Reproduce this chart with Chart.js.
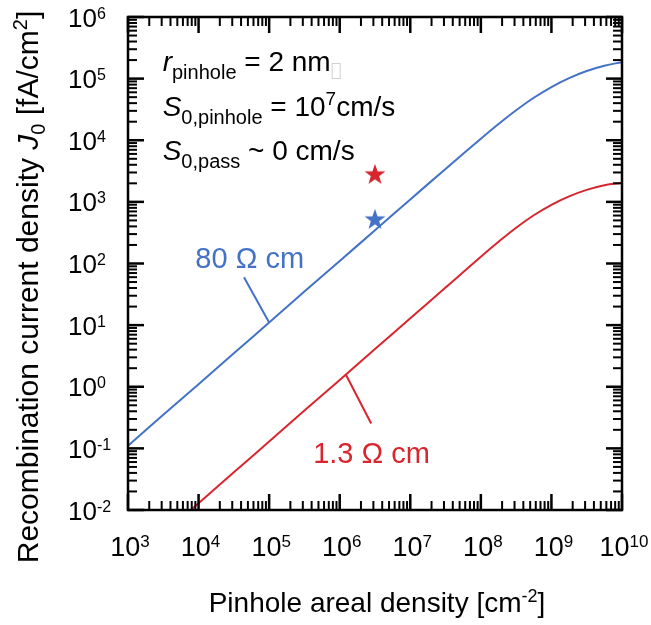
<!DOCTYPE html>
<html>
<head>
<meta charset="utf-8">
<script src="https://cdn.jsdelivr.net/npm/chart.js@4.4.0/dist/chart.umd.min.js"></script>
<style>
  html, body { margin: 0; padding: 0; background: #fff; }
  #wrap { width: 651px; height: 625px; }
</style>
</head>
<body>
<div id="wrap"><canvas id="j0Chart" width="651" height="625"></canvas></div>
<script>
// pinhole areal density [cm^-2]
var pinholeDensity = [1e3, 3.16e3, 1e4, 3.16e4, 1e5, 3.16e5, 1e6, 3.16e6, 1e7, 3.16e7,
                      1e8, 1.78e8, 3.16e8, 5.62e8, 1e9, 1.78e9, 3.16e9, 5.62e9, 1e10];
// J0 [fA/cm2], 80 Ohm cm wafer
var j0Res80 = [0.11, 0.35, 1.1, 3.5, 11, 35, 110, 346, 1096, 3430,
               10600, 18300, 30600, 48900, 73100, 102000, 133000, 162000, 185000];
// J0 [fA/cm2], 1.3 Ohm cm wafer
var j0Res13 = [0.00129, 0.0041, 0.0129, 0.041, 0.129, 0.41, 1.29, 4.1, 12.9, 40.7,
               129, 225, 380, 606, 897, 1230, 1567, 1862, 2045];
// measured samples (stars)
var starDensity = [3.16e6];
var starJ0Red = [2850];
var starJ0Blue = [530];

var xDecades = [3, 4, 5, 6, 7, 8, 9, 10];
var yDecades = [-2, -1, 0, 1, 2, 3, 4, 5, 6];

var BLUE = '#4472c4';
var RED = '#d9262e';
var FONT = '"Liberation Sans", Arial, sans-serif';

function toPoints(xs, ys) {
    return xs.map(function (x, i) { return { x: x, y: ys[i] }; });
}

function starImage(color, r) {
    var c = document.createElement('canvas');
    var s = Math.ceil(r * 2 + 2);
    c.width = s;
    c.height = s;
    var g = c.getContext('2d');
    g.beginPath();
    for (var i = 0; i < 10; i++) {
        var rad = i % 2 === 0 ? r : r * 0.4;
        var a = -Math.PI / 2 + i * Math.PI / 5;
        g.lineTo(s / 2 + rad * Math.cos(a), s / 2 + 1 + rad * Math.sin(a));
    }
    g.closePath();
    g.fillStyle = color;
    g.fill();
    return c;
}

function setFont(ctx, r) {
    ctx.font = (r.italic ? 'italic ' : '') + r.size + 'px ' + FONT;
}

// draws text runs (for sub/superscripts), returns the end x
function drawRuns(ctx, x, y, runs, align) {
    var w = 0;
    runs.forEach(function (r) { setFont(ctx, r); w += ctx.measureText(r.t).width; });
    var cx = align === 'center' ? x - w / 2 : x;
    runs.forEach(function (r) {
        setFont(ctx, r);
        ctx.fillText(r.t, cx, y + (r.dy || 0));
        cx += ctx.measureText(r.t).width;
    });
    return cx;
}

function seg(ctx, x1, y1, x2, y2) {
    ctx.beginPath();
    ctx.moveTo(x1, y1);
    ctx.lineTo(x2, y2);
    ctx.stroke();
}

var notes = {
    id: 'notes',
    afterDatasetsDraw: function (chart) {
        var ctx = chart.ctx, xs = chart.scales.x, ys = chart.scales.y;
        function px(v) { return xs.getPixelForValue(v); }
        function py(v) { return ys.getPixelForValue(v); }
        ctx.save();
        ctx.textBaseline = 'alphabetic';
        ctx.textAlign = 'left';

        // pointers to the curves
        ctx.lineWidth = 2;
        ctx.strokeStyle = BLUE;
        seg(ctx, px(1e5), py(11), px(4.4e4), py(60));
        ctx.strokeStyle = RED;
        seg(ctx, px(1.22e6), py(1.58), px(2.79e6), py(0.254));

        ctx.fillStyle = BLUE;
        drawRuns(ctx, px(9.0e3), py(84), [{ t: '80 \u03A9 cm', size: 29 }]);
        ctx.fillStyle = RED;
        drawRuns(ctx, px(4.2e5), py(0.058), [{ t: '1.3 \u03A9 cm', size: 29 }]);

        // parameter block
        ctx.fillStyle = '#000';
        var x0 = px(3.1e3);
        var end = drawRuns(ctx, x0, py(1.33e5), [
            { t: 'r', size: 28, italic: true },
            { t: 'pinhole', size: 20, dy: 8 },
            { t: ' = 2 nm', size: 28 }
        ]);
        ctx.strokeStyle = '#cfcfcf';
        ctx.lineWidth = 1;
        ctx.strokeRect(end + 1.5, py(1.33e5) - 7.5, 8, 15);
        drawRuns(ctx, x0, py(2.47e4), [
            { t: 'S', size: 28, italic: true },
            { t: '0,pinhole', size: 20, dy: 8 },
            { t: ' = 10', size: 28 },
            { t: '7', size: 19, dy: -11 },
            { t: 'cm/s', size: 28 }
        ]);
        drawRuns(ctx, x0, py(4.78e3), [
            { t: 'S', size: 28, italic: true },
            { t: '0,pass', size: 20, dy: 8 },
            { t: ' ~ 0 cm/s', size: 28 }
        ]);
        ctx.restore();
    }
};

var frame = {
    id: 'frame',
    afterDraw: function (chart) {
        var ctx = chart.ctx, a = chart.chartArea, xs = chart.scales.x, ys = chart.scales.y;
        ctx.save();
        ctx.strokeStyle = '#000';
        ctx.fillStyle = '#000';

        // inward ticks on all four sides
        xDecades.forEach(function (e) {
            for (var k = 1; k <= 9; k++) {
                var v = k * Math.pow(10, e);
                if (v > xs.max * 1.001) break;
                var p = xs.getPixelForValue(v);
                var len = k === 1 ? 16 : 9;
                ctx.lineWidth = k === 1 ? 2.5 : 2;
                seg(ctx, p, a.bottom, p, a.bottom - len);
                seg(ctx, p, a.top, p, a.top + len);
            }
        });
        yDecades.forEach(function (e) {
            for (var k = 1; k <= 9; k++) {
                var v = k * Math.pow(10, e);
                if (v > ys.max * 1.001) break;
                var p = ys.getPixelForValue(v);
                var len = k === 1 ? 16 : 9;
                ctx.lineWidth = k === 1 ? 2.5 : 2;
                seg(ctx, a.left, p, a.left + len, p);
                seg(ctx, a.right, p, a.right - len, p);
            }
        });
        ctx.lineWidth = 2.5;
        ctx.strokeRect(a.left, a.top, a.right - a.left, a.bottom - a.top);

        // tick labels
        ctx.textBaseline = 'alphabetic';
        ctx.textAlign = 'left';
        xDecades.forEach(function (e) {
            var p = xs.getPixelForValue(Math.pow(10, e));
            drawRuns(ctx, p + 2, 556, [
                { t: '10', size: 27 },
                { t: String(e), size: 17, dy: -9 }
            ], 'center');
        });
        yDecades.forEach(function (e) {
            var p = ys.getPixelForValue(Math.pow(10, e));
            drawRuns(ctx, 68, p + 9.5, [
                { t: '10', size: 26 },
                { t: String(e), size: 16, dy: -8 }
            ]);
        });

        // axis titles
        drawRuns(ctx, (a.left + a.right) / 2 + 2, 612, [
            { t: 'Pinhole areal density [cm', size: 28 },
            { t: '-2', size: 18, dy: -10 },
            { t: ']', size: 28 }
        ], 'center');
        ctx.translate(38, 287);
        ctx.rotate(-Math.PI / 2);
        drawRuns(ctx, 0, 0, [
            { t: 'Recombination current density ', size: 30 },
            { t: 'J', size: 30, italic: true },
            { t: '0', size: 20, dy: 7 },
            { t: ' [fA/cm', size: 30 },
            { t: '2', size: 20, dy: -11 },
            { t: ']', size: 30 }
        ], 'center');
        ctx.restore();
    }
};

var data = {
    datasets: [{
        label: '80 Ohm cm',
        data: toPoints(pinholeDensity, j0Res80),
        showLine: true,
        borderColor: BLUE,
        borderWidth: 2,
        pointRadius: 0,
        tension: 0.4
    }, {
        label: '1.3 Ohm cm',
        data: toPoints(pinholeDensity, j0Res13),
        showLine: true,
        borderColor: RED,
        borderWidth: 2,
        pointRadius: 0,
        tension: 0.4
    }, {
        label: 'sample 1.3 Ohm cm',
        data: toPoints(starDensity, starJ0Red),
        pointStyle: starImage(RED, 11)
    }, {
        label: 'sample 80 Ohm cm',
        data: toPoints(starDensity, starJ0Blue),
        pointStyle: starImage(BLUE, 11)
    }]
};

var options = {
    responsive: false,
    animation: false,
    layout: { padding: { left: 128, right: 29, top: 17, bottom: 115 } },
    plugins: { legend: { display: false }, tooltip: { enabled: false } },
    scales: {
        x: { type: 'logarithmic', min: 1e3, max: 1e10, display: false },
        y: { type: 'logarithmic', min: 1e-2, max: 1e6, display: false }
    }
};

var ctx = document.getElementById('j0Chart').getContext('2d');
var j0Chart = new Chart(ctx, {
    type: 'scatter',
    data: data,
    options: options,
    plugins: [notes, frame]
});
</script>
</body>
</html>
